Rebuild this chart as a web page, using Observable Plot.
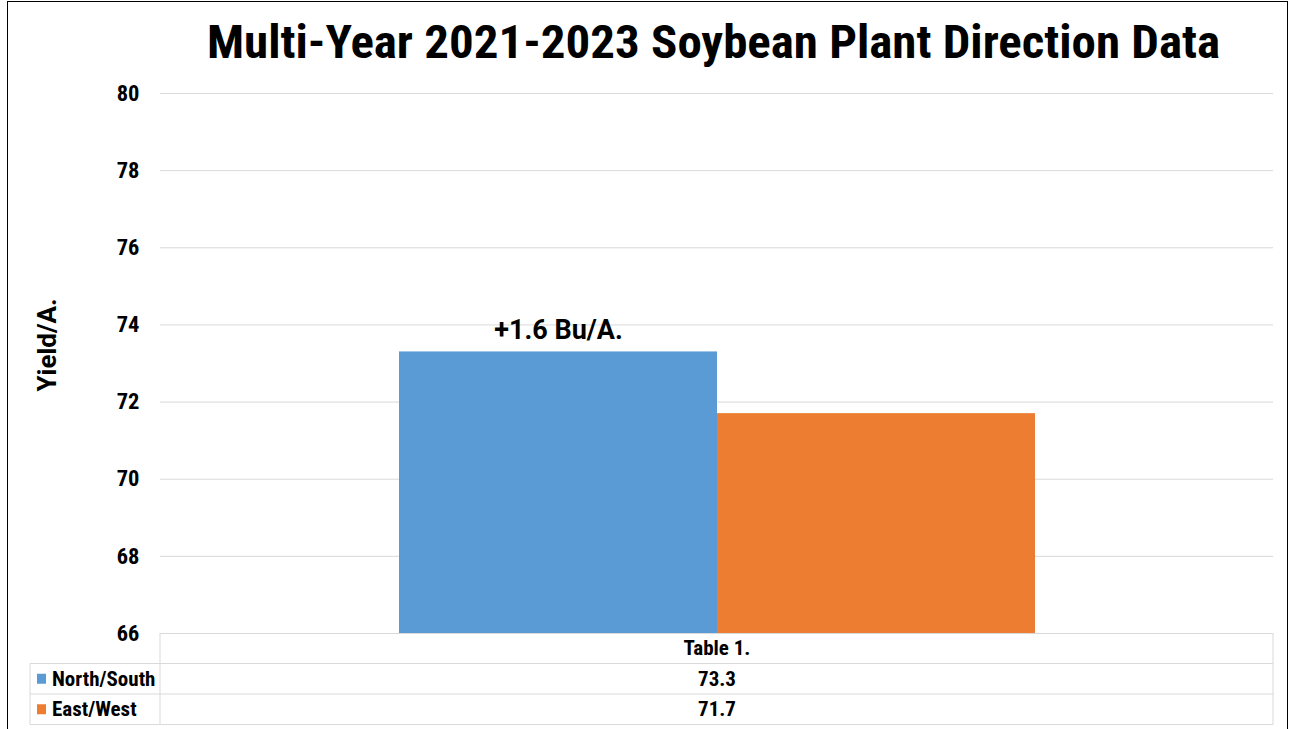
<!DOCTYPE html>
<html><head><meta charset="utf-8">
<script src="https://cdn.jsdelivr.net/npm/d3@7"></script>
<script src="https://cdn.jsdelivr.net/npm/@observablehq/plot@0.6"></script>
<style>
body{margin:0;background:#fff;}
#wrap{position:relative;width:1291px;height:729px;overflow:hidden;background:#fff;}
#frame{position:absolute;left:7px;top:1px;width:1281px;height:800px;border:1px solid #000;box-sizing:border-box;}
#chart{position:absolute;left:0;top:0;}
</style></head><body><div id="wrap"><div id="frame"></div><div id="chart"></div></div>
<script>
const title = "Multi-Year 2021-2023 Soybean Plant Direction Data";
const yLabel = "Yield/A.";
const tableTitle = "Table 1.";
const series = ["North/South", "East/West"];
const values = [73.3, 71.7];
const colors = ["#5B9BD5", "#ED7D31"];
const yTicks = [66, 68, 70, 72, 74, 76, 78, 80];
const diffLabel = "+" + (values[0] - values[1]).toFixed(1) + " Bu/A.";
const data = series.map((s, i) => ({series: s, value: values[i]}));
const FONT = "'Roboto Condensed', 'Liberation Sans Narrow', Roboto, sans-serif";

const plot = Plot.plot({
  width: 1291, height: 729,
  marginTop: 93, marginBottom: 96, marginLeft: 160, marginRight: 18,
  style: {fontFamily: FONT, background: "transparent", overflow: "visible", color: "#000"},
  x: {type: "band", domain: series, paddingInner: 0, paddingOuter: 0.75, axis: null},
  y: {domain: [66, 80], ticks: yTicks, label: null},
  color: {domain: series, range: colors},
  marks: [
    Plot.gridY(yTicks, {stroke: "#d9d9d9", strokeOpacity: 1, strokeWidth: 1}),
    Plot.barY(data, {x: "series", y1: 66, y2: "value", fill: "series"}),
    Plot.axisY(yTicks, {tickSize: 0, tickPadding: 21, fontSize: 22.5, fontWeight: "bold", fill: "#000", label: null}),
    Plot.text([data[0]], {x: "series", y: "value", text: () => diffLabel, dy: -22, fontSize: 27, fontWeight: "bold", fontFamily: "Roboto", fill: "#000"})
  ]
});
document.getElementById("chart").appendChild(plot);

const svg = d3.select(plot);
const xs = plot.scale("x"), ys = plot.scale("y");
const left = 160, right = 1291 - 18, tableLeft = 30;
const y0 = ys.apply(66);
const rowH = 30.5;
const cx = (xs.apply(series[0]) + xs.apply(series[1]) + xs.bandwidth) / 2;
const g = svg.append("g").attr("font-family", FONT).attr("font-weight", "bold").attr("fill", "#000");
const lineC = "#d9d9d9";
function line(x1, y1, x2, y2) {
  g.append("line").attr("x1", x1).attr("y1", y1).attr("x2", x2).attr("y2", y2).attr("stroke", lineC).attr("stroke-width", 1);
}
// table grid
line(tableLeft, y0 + rowH, right, y0 + rowH);
line(tableLeft, y0 + 2 * rowH, right, y0 + 2 * rowH);
line(tableLeft, y0 + 3 * rowH, right, y0 + 3 * rowH);
line(left, y0, left, y0 + 3 * rowH);
line(right, y0, right, y0 + 3 * rowH);
line(tableLeft, y0 + rowH, tableLeft, y0 + 3 * rowH);
g.append("text").attr("x", cx).attr("y", y0 + rowH / 2).attr("text-anchor", "middle").attr("dominant-baseline", "central").attr("font-size", 21).text(tableTitle);
series.forEach((s, i) => {
  const yc = y0 + rowH * (i + 1.5);
  g.append("rect").attr("x", 37).attr("y", yc - 5).attr("width", 9).attr("height", 10).attr("fill", colors[i]);
  g.append("text").attr("x", 52).attr("y", yc).attr("text-anchor", "start").attr("dominant-baseline", "central").attr("font-size", 21).text(s);
  g.append("text").attr("x", cx).attr("y", yc).attr("text-anchor", "middle").attr("dominant-baseline", "central").attr("font-size", 21).text(values[i].toFixed(1));
});
// title
svg.append("text").attr("x", 713.5).attr("y", 58).attr("text-anchor", "middle").attr("font-family", FONT).attr("font-weight", "bold").attr("font-size", 47).attr("textLength", 1013).attr("lengthAdjust", "spacingAndGlyphs").attr("fill", "#000").text(title);
// y label
svg.append("text").attr("transform", "translate(47,345) rotate(-90)").attr("text-anchor", "middle").attr("dominant-baseline", "central").attr("font-family", "Roboto").attr("font-weight", "bold").attr("font-size", 26).attr("fill", "#000").text(yLabel);
</script></body></html>
